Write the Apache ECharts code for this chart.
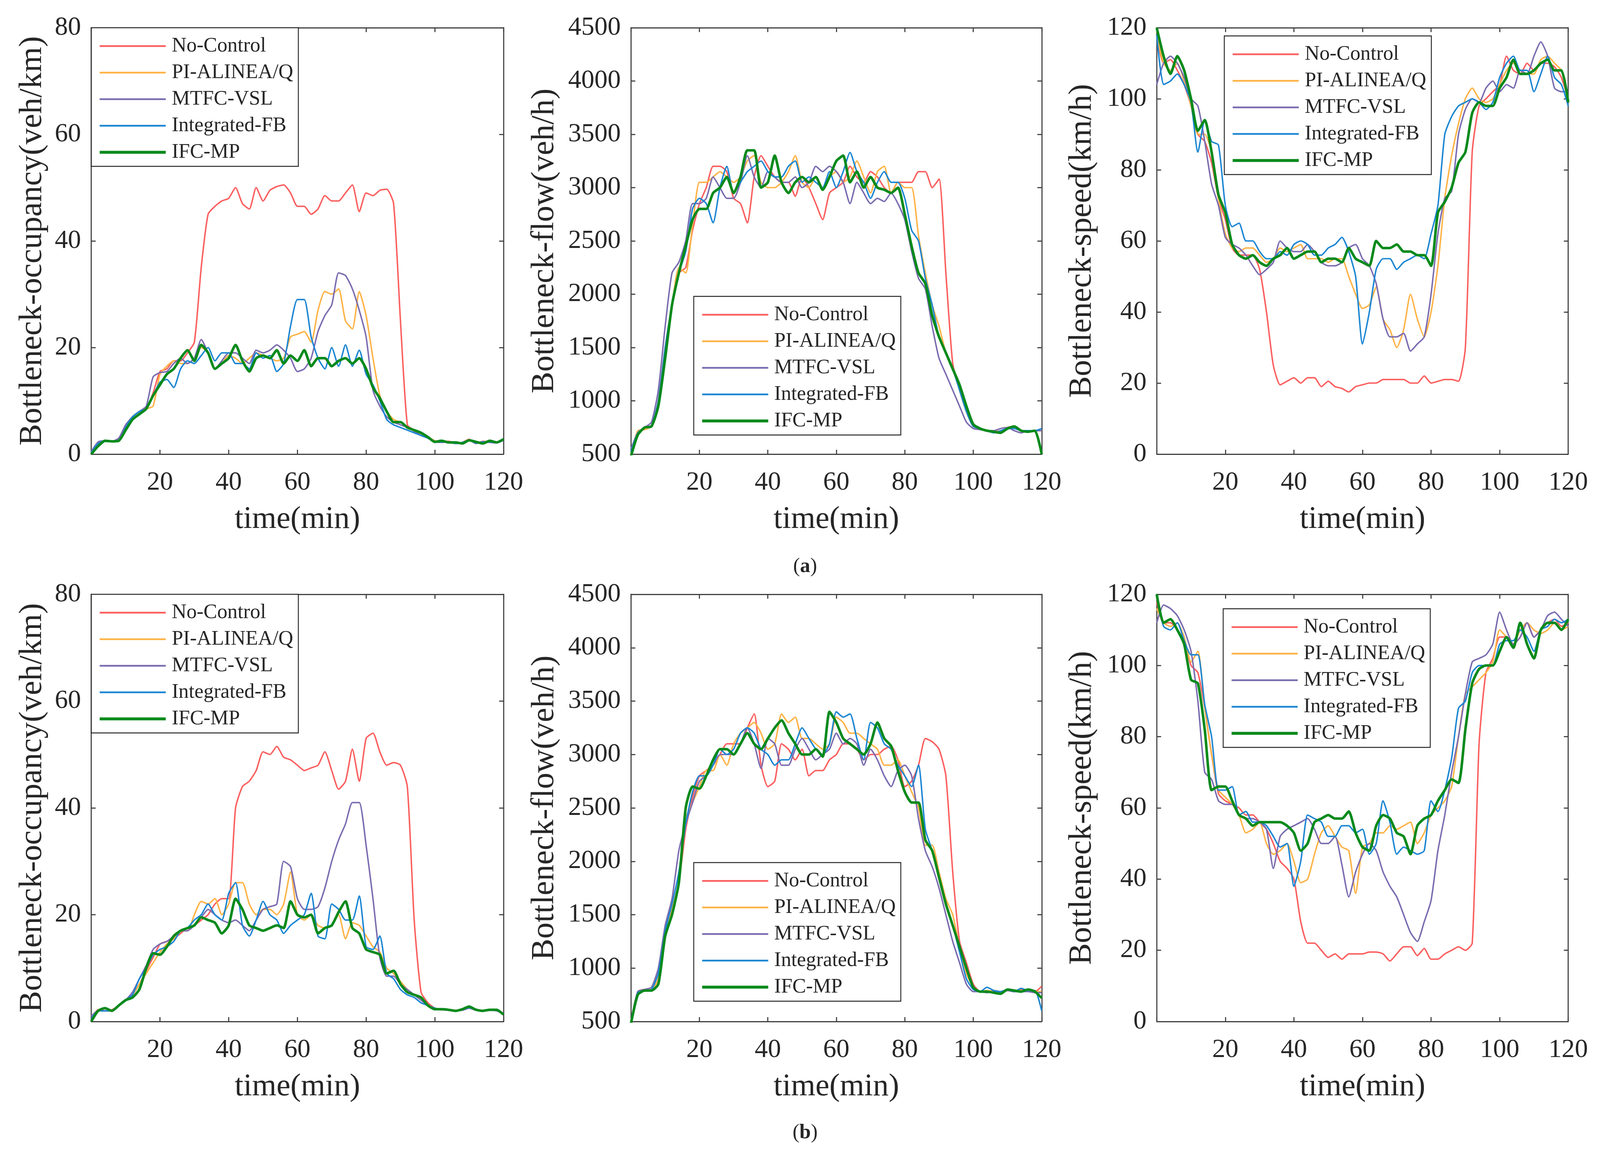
<!DOCTYPE html>
<html>
<head>
<meta charset="utf-8">
<title>Bottleneck</title>
<script src="https://cdn.jsdelivr.net/npm/echarts@6/dist/echarts.min.js"></script>
<style>
    html, body { margin: 0; padding: 0; background: #fff; overflow: hidden; }
    #chart { width: 100vw; height: 100vh; }
</style>
</head>
<body>
<div id="chart"></div>
<script>
// time axis (min), every 2 min
var time = [0,2,4,6,8,10,12,14,16,18,20,22,24,26,28,30,32,34,36,38,40,42,44,46,48,50,52,54,56,58,
    60,62,64,66,68,70,72,74,76,78,80,82,84,86,88,90,92,94,96,98,100,102,104,106,108,110,112,114,116,118,120];

var methodNames = ['No-Control', 'PI-ALINEA/Q', 'MTFC-VSL', 'Integrated-FB', 'IFC-MP'];
var methodColors = ['#fb5f5f', '#ffb347', '#7b6cb0', '#1c86d3', '#088a1c'];
var methodWidths = [4, 4, 4, 4, 7];

var xTicks = [0, 120, 20];
var occTicks = [0, 80, 20];
var flowTicks = [500, 4500, 500];
var speedTicks = [0, 120, 20];

// (a) occupancy
var occANoControl = [0.3,2.0,2.5,2.4,2.6,5.0,7.0,8.0,8.5,11.5,
    15.5,16.0,17.5,17.5,19.0,21.0,35.0,45.0,46.5,47.5,
    48.0,50.0,47.0,46.0,50.0,47.5,49.5,50.2,50.5,49.0,
    46.5,46.5,45.0,46.0,48.5,47.5,47.5,49.0,50.5,45.5,
    49.0,48.5,49.5,49.7,47.0,25.0,5.5,4.5,3.8,3.2,
    2.5,2.3,2.4,2.1,2.2,2.8,2.0,2.4,2.3,2.2,2.8];
var occAPI = [0.3,2.0,2.5,2.4,2.5,5.0,7.0,8.0,8.5,9.0,
    15.0,16.5,17.5,17.0,17.0,18.0,20.0,19.0,16.0,17.0,
    18.5,18.0,17.0,18.0,19.0,18.5,18.0,17.5,18.0,22.0,
    22.5,23.0,21.0,27.0,30.5,30.0,31.0,25.0,23.5,30.5,
    26.0,18.0,11.0,8.0,6.5,6.0,5.0,4.5,3.8,3.2,
    2.5,2.3,2.3,2.1,2.2,2.7,2.1,2.3,2.3,2.2,2.7];
var occAMTFC = [0.5,2.3,2.5,2.4,3.0,5.5,7.0,8.0,9.0,14.5,
    15.3,15.5,17.0,18.0,17.0,18.0,21.5,19.0,16.0,17.5,
    19.0,19.0,18.0,17.0,19.5,19.0,19.5,20.5,19.5,18.0,
    15.5,16.0,18.0,23.0,26.0,28.0,34.0,33.5,31.0,27.0,
    22.0,12.0,9.0,7.0,6.0,5.5,5.0,4.3,3.5,3.0,
    2.3,2.2,2.3,2.0,2.1,2.6,2.0,2.3,2.2,2.1,2.6];
var occAFB = [0.3,2.0,2.5,2.4,2.5,5.0,7.0,8.0,8.5,11.0,
    13.5,14.0,12.5,16.0,17.5,17.0,18.5,20.0,17.5,19.0,
    19.0,17.0,17.0,16.0,19.0,18.0,18.5,15.5,17.0,24.0,
    29.0,29.0,22.0,18.0,16.0,20.0,16.5,20.5,16.5,19.5,
    15.0,13.0,10.0,6.5,5.5,5.0,4.5,4.0,3.5,3.0,
    2.3,2.3,2.2,2.0,2.2,2.6,2.1,2.3,2.3,2.2,2.7];
var occAMP = [0.0,1.5,2.5,2.4,2.5,4.5,6.5,7.5,8.5,11.0,
    13.0,15.0,16.0,18.0,19.5,17.5,20.5,19.0,16.0,17.0,
    18.0,20.5,17.5,15.5,18.0,18.5,18.0,19.5,17.0,18.5,
    17.5,19.5,16.5,18.0,18.0,16.5,17.5,18.0,17.0,18.0,
    16.0,12.5,10.5,8.0,6.0,6.0,5.0,4.5,4.0,3.2,
    2.3,2.5,2.2,2.2,2.0,2.6,2.3,2.0,2.5,2.2,2.8];

// (a) flow
var flowANoControl = [500,700,750,770,1000,1500,1900,2200,2250,2600,
    2850,3000,3200,3200,3150,2900,2850,2670,3100,3300,
    3200,3100,3050,3050,2920,3100,3000,2850,2700,2950,
    3000,3050,3200,3100,3050,3150,3100,3000,2950,3050,
    3050,3050,3150,3150,3000,3080,2200,1350,1100,900,
    760,740,720,720,710,750,760,720,720,720,720];
var flowAPI = [500,720,730,760,1000,1500,1900,2250,2200,2650,
    3050,3050,3100,3150,3100,3050,3100,3250,3300,3050,
    3000,3000,3050,3150,3300,3050,3000,3100,3000,3100,
    3150,3050,3100,3250,3100,2950,3150,3200,2950,3050,
    3000,3000,2550,2200,1900,1700,1450,1300,1100,900,
    760,740,720,710,720,740,750,720,720,720,720];
var flowAMTFC = [550,700,750,800,1100,1700,2200,2300,2500,2850,
    2850,2900,3100,3000,2900,2900,3050,3300,3100,3000,
    3150,3100,3050,3050,3100,3000,3050,3200,3150,3200,
    3150,3050,2850,3050,2950,2850,2900,2870,2950,2850,
    2700,2400,2150,2050,1700,1400,1250,1100,950,800,
    740,730,720,720,740,750,720,700,720,720,720];
var flowAFB = [520,700,750,770,1000,1500,1900,2200,2400,2800,
    2900,2850,2670,3000,3200,2950,3050,3150,3200,3250,
    3150,3100,3100,3200,3250,3050,3100,3050,3000,3150,
    3000,3150,3330,3150,3050,2900,3050,3150,3050,3050,
    2900,2600,2500,2150,1900,1600,1450,1300,1100,900,
    760,740,720,700,720,740,740,720,720,720,740];
var flowAMP = [480,680,750,760,950,1400,1900,2200,2450,2700,
    2800,2800,2950,3000,3100,2950,3100,3350,3350,3000,
    3050,3300,3050,2950,3050,3100,3050,3100,2980,3100,
    3250,3300,3050,3150,3000,3100,3000,2980,2950,3000,
    2750,2450,2200,2100,1800,1600,1450,1300,1150,950,
    780,740,720,710,700,740,760,720,710,720,500];

// (a) speed
var speedANoControl = [118,110,111,108,104,98,90,88,82,72,
    66,58,56,56,56,52,40,25,19.5,20.5,
    21.5,20,21.5,21.5,19,20.5,19,18.5,17.5,19,
    19.5,20,20,21,21,21,21,20,20,22,
    20,20.5,21,21,20.5,30,85,98,100,102,
    104,112,108,107,110,108,110,110,109,106,100];
var speedAPI = [118,110,108,110,105,98,90,90,85,72,
    62,58,57,58,58,56,54,55,58,57,
    58,59,55,55,55,54,55,55,50,45,
    41,42,47,38,35,30,35,45,38,33,
    40,53,72,84,93,100,103,100,99,100,
    104,108,110,108,107,107,111,112,110,108,100];
var speedAMTFC = [104,110,112,110,106,100,98,88,76,70,
    61,59,58,56,53,50.5,52,54,60,58,
    57,57,59,57,54,53,53,54,58,59,
    55,53,48,38,33,33,34,29,31,33,
    45,62,72,74,90,97,100,99,103,105,
    102,104,103,108,107,112,116,112,103,102,102];
var speedAFB = [118,104,105,107,104,99,85,94,88,87,
    70,64,65,60,60,57,55,55,57,56,
    59,60,59,56,56,58,59,61,57,50,
    31,40,52,55,55,52,54,55,56,55,
    62,70,90,95,98,99,100,99,97,99,
    106,110,112,108,108,102,107,112,106,104,98];
var speedAMP = [120,112,107,112,108,100,91,94,85,73,
    68,59,56,55,56,54,53,55,56,58,
    55,56,57,57,54,55,55,54,58,55,
    54,53,60,58,58,59,57,57,56,56,
    53,68,71,75,82,85,96,99,98,98,
    103,106,111,107,107,108,110,111,108,108,99];

// (b) occupancy
var occBNoControl = [0.5,2.2,2.0,2.2,3.0,4.0,5.0,7.0,9.5,12.0,
    14.5,15.0,15.5,16.5,17.5,18.0,19.0,20.0,22.0,23.0,
    23.0,40.0,44.0,45.0,47.0,50.5,50.0,51.5,49.5,49.0,
    48.0,47.0,47.5,48.0,50.5,47.0,43.5,45.0,51.0,45.0,
    53.0,54.0,50.5,48.0,48.5,48.0,44.0,19.0,5.5,3.5,
    2.5,2.2,2.2,2.0,2.3,2.8,2.2,2.0,2.2,2.2,1.5];
var occBPI = [1.0,2.0,2.0,2.0,3.0,4.0,5.0,7.0,9.0,11.0,
    13.0,14.5,15.5,17.0,17.0,20.0,22.5,22.0,23.0,20.0,
    22.0,26.0,26.0,22.0,20.0,21.0,21.0,20.0,22.0,28.0,
    20.0,19.0,20.0,18.0,17.5,18.0,20.0,15.5,18.5,18.0,
    16.0,14.0,13.0,10.0,9.0,7.5,6.0,5.0,4.0,3.0,
    2.5,2.2,2.2,2.0,2.2,2.6,2.2,2.0,2.2,2.1,1.5];
var occBMTFC = [1.0,2.0,2.0,2.0,3.0,4.0,5.5,8.0,10.5,13.5,
    14.5,15.0,16.0,17.0,17.0,18.0,19.5,21.0,20.0,19.0,
    18.5,19.0,18.0,17.0,19.0,21.0,21.5,22.0,30.0,29.0,
    23.0,21.0,21.0,21.5,25.0,30.0,34.0,37.0,41.0,41.0,
    33.0,23.0,12.0,8.5,8.5,7.0,6.0,5.0,4.0,3.0,
    2.5,2.2,2.1,2.0,2.1,2.5,2.1,2.0,2.1,2.0,1.4];
var occBFB = [0.5,2.0,2.0,2.0,3.0,4.0,5.0,8.0,10.0,12.5,
    13.5,14.0,15.0,17.0,17.5,19.0,20.0,22.0,20.0,19.0,
    24.0,26.0,18.0,16.0,19.0,22.5,20.0,19.0,16.5,18.0,
    19.0,20.0,24.0,16.0,15.5,22.0,21.0,19.0,19.0,23.5,
    14.0,13.5,16.0,9.0,8.0,6.0,5.0,4.5,3.5,3.0,
    2.5,2.2,2.2,2.0,2.2,2.6,2.2,2.0,2.2,2.1,1.5];
var occBMP = [0.0,2.0,2.5,2.0,3.0,4.0,4.5,6.0,10.0,12.8,
    12.5,14.0,16.0,17.0,17.5,18.0,19.5,19.0,18.5,16.5,
    18.0,23.0,21.0,18.0,17.5,17.0,17.5,18.0,17.5,22.5,
    20.0,19.5,20.0,16.5,17.5,18.0,20.5,22.5,17.5,16.5,
    13.5,13.0,12.5,9.0,9.5,7.0,5.5,5.0,4.5,3.0,
    2.3,2.3,2.2,2.0,2.3,2.8,2.2,2.0,2.2,2.2,1.3];

// (b) flow
var flowBNoControl = [500,780,800,800,900,1300,1550,1800,2300,2600,
    2800,2850,2900,3000,3100,3100,3100,3250,3380,2900,
    2700,2750,3100,3050,2950,3050,2800,2850,2850,2950,
    3000,3100,3100,3050,2950,3000,3000,3050,3080,2950,
    2700,2750,2900,3150,3120,3050,2800,1900,1250,1050,
    850,780,780,790,780,790,780,800,790,780,830];
var flowBPI = [500,780,800,800,900,1300,1550,1800,2400,2550,
    2700,2850,2850,3000,2900,3100,3200,3250,3300,3200,
    3050,3100,3380,3300,3350,3150,3150,3100,3050,3100,
    3350,3300,3200,3200,3150,3100,3050,2900,2900,2950,
    2800,2650,2500,2150,2150,1900,1650,1500,1200,950,
    820,780,790,780,780,800,780,790,790,780,780];
var flowBMTFC = [500,780,800,820,1000,1400,1650,2100,2350,2550,
    2750,2800,2900,3000,3000,3000,3100,3250,3100,2870,
    3150,3100,2900,2900,3050,3150,3050,2950,3000,3050,
    3200,3100,3150,3100,2900,3050,2950,2800,2700,2850,
    2900,2800,2400,2100,1950,1750,1500,1250,1050,850,
    780,780,770,780,770,790,780,780,780,770,770];
var flowBFB = [500,770,790,800,950,1350,1600,1900,2350,2650,
    2800,2800,2900,3050,3000,3050,3200,3250,3200,3050,
    3000,2900,2950,2950,3100,3250,3150,3050,3000,3100,
    3400,3350,3380,3150,2950,3300,3250,3100,3050,2900,
    2800,2700,2900,2300,2100,1850,1600,1400,1150,900,
    800,780,820,790,780,800,780,810,790,790,600];
var flowBMP = [480,750,790,790,850,1300,1500,1800,2500,2700,
    2680,2800,2950,3050,3050,3000,3100,3200,3100,3050,
    3150,3250,3320,3200,3100,3000,3000,3050,2980,3400,
    3300,3150,3100,3050,3000,3100,3300,3150,3080,2850,
    2650,2550,2550,2200,2100,1850,1600,1400,1200,1000,
    820,780,780,770,760,800,790,780,800,780,720];

// (b) speed
var speedBNoControl = [118,112,112,110,107,100,98,88,75,64,
    62,61,60,58,58,56,54,50,45,43,
    40,28,22,22,20,18,19,17.5,19,19,
    19,19.5,19.5,19,17,19,21,21,18.5,20.5,
    17.5,17.5,19,20,21,20,22,78,98,102,
    108,108,106,108,112,108,110,112,113,111,112];
var speedBPI = [116,112,111,112,108,101,104,88,75,65,
    63,61,58,53,54,56,50,47,48,50,
    45,39,40,47,53,55,52,49,48,36,
    49,50,53,53,55,54,55,56,50,53,
    58,60,62,66,80,92,94,96,98,101,
    110,108,106,110,112,110,109,110,112,110,111];
var speedBMTFC = [112,117,116,114,110,104,90,70,68,62,
    61,61,58,57,57,56,54,43,52,54,
    55,56,57,54,50,50,52,44,35,42,
    47,50,48,42,38,35,30,25,22.5,28,
    34,48,58,70,80,92,101,102,103,106,
    115,110,106,108,112,108,110,114,115,113,111];
var speedBFB = [119,111,110,112,107,103,103,89,80,65,
    65,66,58,59,56,56,55,52,49,50,
    38,45,58,57,56,52,52,55,55,53,
    54,47,50,62,56,47,49,48,47,48,
    62,59,65,74,88,90,98,100,100,100,
    106,107,107,110,108,104,110,111,113,112,113];
var speedBMP = [120,112,113,110,106,96,95,82,65,66,
    66,62,58,57,55,56,56,56,56,55,
    53,48,50,56,57,58,57,57,59,53,
    49,48,55,58,57,53,52,47,55,57,
    58,62,65,68,67,82,95,99,100,100,
    104,108,105,112,106,102,110,112,112,110,113];

var fontFamily = 'Liberation Serif';
var textColor = '#262626';
var axisColor = '#404040';

// the layout below is measured on a 4382 x 2963 page, scale it to the real viewport
var chartDom = document.getElementById('chart');
var W = chartDom.clientWidth, H = chartDom.clientHeight;
var SX = W / 4382, SY = H / 2963, SF = Math.min(SX, SY);
function sx(v) { return v * SX; }
function sy(v) { return v * SY; }
function sf(v) { return v * SF; }

var panels = [
    {grid: [250, 71, 1129, 1092], ticks: occTicks, yName: 'Bottleneck-occupancy(veh/km)', nameGap: 117,
        legend: [250, 71], series: [occANoControl, occAPI, occAMTFC, occAFB, occAMP]},
    {grid: [1728, 71, 1125, 1092], ticks: flowTicks, yName: 'Bottleneck-flow(veh/h)', nameGap: 192,
        legend: [1900, 759], series: [flowANoControl, flowAPI, flowAMTFC, flowAFB, flowAMP]},
    {grid: [3168, 71, 1127, 1092], ticks: speedTicks, yName: 'Bottleneck-speed(km/h)', nameGap: 160,
        legend: [3353, 92], series: [speedANoControl, speedAPI, speedAMTFC, speedAFB, speedAMP]},
    {grid: [250, 1522, 1129, 1094], ticks: occTicks, yName: 'Bottleneck-occupancy(veh/km)', nameGap: 117,
        legend: [250, 1522], series: [occBNoControl, occBPI, occBMTFC, occBFB, occBMP]},
    {grid: [1728, 1522, 1125, 1094], ticks: flowTicks, yName: 'Bottleneck-flow(veh/h)', nameGap: 192,
        legend: [1900, 2209], series: [flowBNoControl, flowBPI, flowBMTFC, flowBFB, flowBMP]},
    {grid: [3168, 1522, 1127, 1094], ticks: speedTicks, yName: 'Bottleneck-speed(km/h)', nameGap: 160,
        legend: [3350, 1559], series: [speedBNoControl, speedBPI, speedBMTFC, speedBFB, speedBMP]}
];

function makeAxis(type, gridIndex, ticks, position, showLabel) {
    return {
        type: 'value',
        gridIndex: gridIndex,
        position: position,
        min: ticks[0],
        max: ticks[1],
        interval: ticks[2],
        axisLine: {show: true, onZero: false, lineStyle: {color: axisColor, width: sf(3)}},
        axisTick: {show: true, inside: true, length: sf(12), lineStyle: {color: axisColor, width: sf(3)}},
        splitLine: {show: false},
        axisLabel: {
            show: showLabel,
            margin: type === 'x' ? sy(40) : sx(28),
            color: textColor,
            fontFamily: fontFamily,
            fontSize: sf(72),
            formatter: function (v) {
                // plain numbers, and no 0 under the time axis
                return (type === 'x' && v === 0) ? '' : String(v);
            }
        }
    };
}

// legend sample lines, drawn as thin bars
function lineIcon(w) {
    return 'path://M0,0H181V' + w + 'H0Z';
}

var grids = [], xAxes = [], yAxes = [], legends = [], seriesList = [];
panels.forEach(function (p, i) {
    grids.push({left: sx(p.grid[0]), top: sy(p.grid[1]), width: sx(p.grid[2]), height: sy(p.grid[3])});

    var xb = makeAxis('x', i, xTicks, 'bottom', true);
    xb.name = 'time(min)';
    xb.nameLocation = 'middle';
    xb.nameGap = sy(128);
    xb.nameTextStyle = {color: textColor, fontFamily: fontFamily, fontSize: sf(86)};
    xAxes.push(xb);
    xAxes.push(makeAxis('x', i, xTicks, 'top', false));

    var yl = makeAxis('y', i, p.ticks, 'left', true);
    yl.name = p.yName;
    yl.nameLocation = 'middle';
    yl.nameGap = sx(p.nameGap);
    // rotated title: its length runs along the page height
    yl.nameTextStyle = {color: textColor, fontFamily: fontFamily, fontSize: (SF + SY) / 2 * 86};
    yAxes.push(yl);
    yAxes.push(makeAxis('y', i, p.ticks, 'right', false));

    legends.push({
        left: sx(p.legend[0]),
        top: sy(p.legend[1]),
        orient: 'vertical',
        data: methodNames.map(function (n, j) {
            return {name: n, icon: lineIcon(j === 4 ? 8 : 5)};
        }),
        selectedMode: false,
        itemWidth: sf(181),
        itemHeight: sf(20),
        itemGap: sy(12),
        padding: [sy(19), sx(14), sy(8), sx(23)],
        borderColor: '#262626',
        borderWidth: sf(2.5),
        backgroundColor: '#ffffff',
        textStyle: {color: textColor, fontFamily: fontFamily, fontSize: sf(56), lineHeight: sy(56), padding: [0, 0, 0, sx(11)]}
    });

    p.series.forEach(function (vals, j) {
        seriesList.push({
            type: 'line',
            name: methodNames[j],
            xAxisIndex: 2 * i,
            yAxisIndex: 2 * i,
            data: time.map(function (t, k) { return [t, vals[k]]; }),
            symbol: 'none',
            showSymbol: false,
            smooth: 0.2,
            z: 2 + j,
            lineStyle: {color: methodColors[j], width: sf(methodWidths[j])},
            itemStyle: {color: methodColors[j]}
        });
    });
});

function subLabel(letter, y) {
    return {type: 'text', x: sx(2205), y: sy(y), style: {
        text: '{n|(}{b|' + letter + '}{n|)}', textAlign: 'center', textVerticalAlign: 'middle',
        rich: {
            n: {fontFamily: fontFamily, fontSize: sf(56), fill: textColor},
            b: {fontFamily: fontFamily, fontSize: sf(56), fontWeight: 'bold', fill: textColor}
        }
    }};
}

var myChart = echarts.init(chartDom);
var option = {
    animation: false,
    backgroundColor: '#ffffff',
    grid: grids,
    xAxis: xAxes,
    yAxis: yAxes,
    legend: legends,
    series: seriesList,
    graphic: [subLabel('a', 1451), subLabel('b', 2901)]
};
myChart.setOption(option);
</script>
</body>
</html>
